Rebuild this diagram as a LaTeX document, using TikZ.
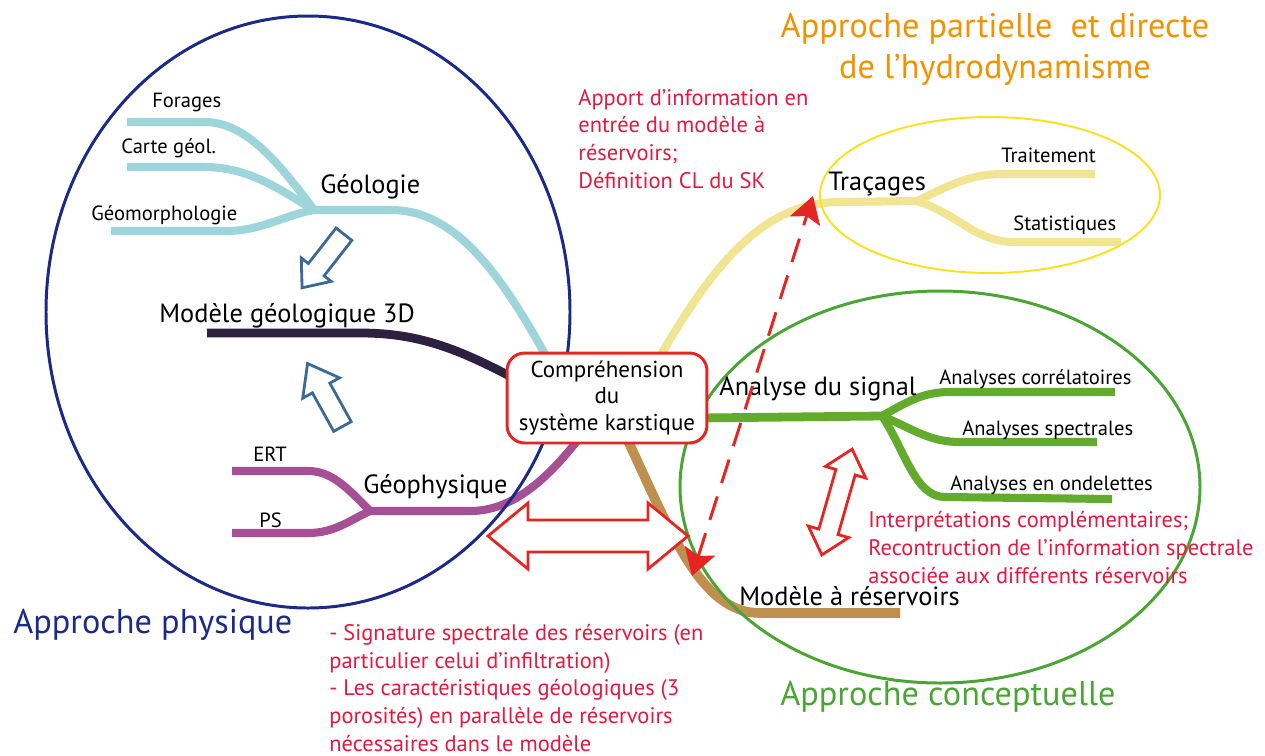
\documentclass[tikz,border=0pt]{standalone}
\usepackage{fontspec}
\setmainfont{PT Sans}
\usetikzlibrary{arrows.meta,calc,backgrounds}
\definecolor{geolc}{HTML}{9DD5DA}
\definecolor{modc}{HTML}{2E2140}
\definecolor{geophc}{HTML}{A64F94}
\definecolor{tracc}{HTML}{F1E593}
\definecolor{signc}{HTML}{63AB2C}
\definecolor{resc}{HTML}{BF8F50}
\definecolor{physc}{HTML}{1B2A87}
\definecolor{concc}{HTML}{4BA534}
\definecolor{hydroc}{HTML}{F39200}
\definecolor{yellc}{HTML}{F9E21B}
\definecolor{note}{HTML}{E5173F}
\definecolor{hint}{HTML}{E52521}
\definecolor{steel}{HTML}{3C6A96}
\tikzset{
  branch/.style={line width=4.6pt, line cap=butt},
  small/.style={font=\fontsize{11.7}{13}\selectfont, anchor=base west, inner sep=0pt},
  mid/.style={font=\fontsize{15}{18}\selectfont, anchor=base west, inner sep=0pt},
  title/.style={font=\fontsize{19.5}{23.2}\selectfont, anchor=base west, inner sep=0pt},
  remark/.style={font=\fontsize{12.8}{15.7}\selectfont, text=note, align=left, anchor=base west, inner sep=0pt},
  hollow/.style={draw=#1, line width=1.6pt, fill=white, line join=miter},
}

\begin{document}
\begin{tikzpicture}[x=0.02cm, y=-0.02cm]
\useasboundingbox (0,0) rectangle (1265,755);

% centre
\node[draw=hint, line width=1.7pt, rounded corners=10pt, fill=white, minimum width=4cm, minimum height=1.8cm,
  align=center, inner sep=0pt, font=\fontsize{13.1}{15.3}\selectfont] (ctr) at (607,398)
  {Compréhension\\du\\système karstique};

\begin{scope}[on background layer]
% geologie
\coordinate (geol) at (314,210);
\draw[branch, geolc] (127,122) -- (204,122) .. controls (240,122) and (270,150) .. (geol);
\draw[branch, geolc] (127,167) -- (204,167) .. controls (250,167) and (280,190) .. (geol);
\draw[branch, geolc] (111,231) -- (227,231) .. controls (260,231) and (285,215) .. (geol);
\draw[branch, geolc] (geol) -- (391,210) .. controls (450,210) and (495,262) .. ($(ctr.north)+(-58,10)$);
% modele 3D
\draw[branch, modc, line width=5pt] (207,333) -- (361,333) .. controls (420,333) and (460,350) .. ($(ctr.west)+(8,-20)$);
% geophysique
\coordinate (geoph) at (370,511);
\draw[branch, geophc] (232,471) -- (308,471) .. controls (330,471) and (345,485) .. (geoph);
\draw[branch, geophc] (232,533) -- (308,533) .. controls (335,533) and (350,520) .. (geoph);
\draw[branch, geophc] (geoph) -- (470,511) .. controls (505,511) and (540,490) .. ($(ctr.south)+(-25,-10)$);
% tracages
\coordinate (trac) at (917,201);
\draw[branch, tracc] ($(ctr.north)+(50,10)$) .. controls (710,270) and (760,202) .. (840,202) -- (trac);
\draw[branch, tracc] (trac) .. controls (950,185) and (970,174) .. (1003,174) -- (1095,174);
\draw[branch, tracc] (trac) .. controls (960,215) and (975,242) .. (1015,242) -- (1121,242);
% signal
\coordinate (sign) at (882,416);
\draw[branch, signc, line width=5pt] ($(ctr.east)+(-10,20)$) -- (sign);
\draw[branch, signc] (sign) .. controls (910,400) and (925,392) .. (950,392) -- (1115,392);
\draw[branch, signc] (sign) .. controls (915,430) and (930,442) .. (960,442) -- (1097,442);
\draw[branch, signc] (sign) .. controls (905,450) and (915,497) .. (945,497) -- (1112,499);
% reservoirs
\draw[branch, resc, line width=5.5pt] ($(ctr.south)+(18,-10)$) .. controls (670,530) and (700,613) .. (760,613) -- (900,613);
% groupes
\draw[physc, line width=1.7pt] (308,312) ellipse [x radius=262, y radius=296];
\draw[yellc, line width=1.1pt] (990,195) ellipse [x radius=170, y radius=78];
\draw[concc, line width=1.7pt] (940,487) ellipse [x radius=260, y radius=196];
\end{scope}

% labels
\node[small] (forages) at (152,107) {Forages};
\node[small] (carte) at (121,153) {Carte géol.};
\node[small] (geomorph) at (91,220) {Géomorphologie};
\node[mid] (geollab) at (320,193) {Géologie};
\node[mid] (modlab) at (159,322) {Modèle géologique 3D};
\node[small] (ert) at (253,461) {ERT};
\node[small] (ps) at (259,527) {PS};
\node[mid] (geophlab) at (363,493) {Géophysique};
\node[mid] (traclab) at (828,190) {Traçages};
\node[small] (traitement) at (1001,162) {Traitement};
\node[small] (stat) at (1013,230) {Statistiques};
\node[mid] (signlab) at (719,395) {Analyse du signal};
\node[small] (corr) at (939,384) {Analyses corrélatoires};
\node[small] (spec) at (962,435) {Analyses spectrales};
\node[small] (onde) at (950,490) {Analyses en ondelettes};
\node[mid] (reslab) at (739,605) {Modèle à réservoirs};

% approches
\node[title, text=physc] (phys) at (13,633) {Approche physique};
\node[title, text=concc] (conc) at (780,705) {Approche conceptuelle};
\node[title, text=hydroc, anchor=base, align=center] (hydro) at (995,78)
  {Approche partielle~ et directe\\de l’hydrodynamisme};

% remarques
\node[remark] (apport) at (578,188) {Apport d’information en\\entrée du modèle à\\réservoirs;\\Définition CL du SK};
\node[remark] (interp) at (868,583) {Interprétations complémentaires;\\Recontruction de l’information spectrale\\associée aux différents réservoirs};
\node[remark] (signat) at (329,751) {- Signature spectrale des réservoirs (en\\particulier celui d’infiltration)\\- Les caractéristiques géologiques (3\\porosités) en parallèle de réservoirs\\nécessaires dans le modèle};

% fleches creuses
\begin{scope}[shift={(323,261)}, rotate=232]
\draw[hollow=steel] (-34,-10) -- (11,-10) -- (11,-19) -- (34,0) -- (11,19) -- (11,10) -- (-34,10) -- cycle;
\end{scope}
\begin{scope}[shift={(325,395)}, rotate=119]
\draw[hollow=steel] (-36,-10) -- (8,-10) -- (8,-21) -- (36,0) -- (8,21) -- (8,10) -- (-36,10) -- cycle;
\end{scope}
\begin{scope}[shift={(588,536)}]
\draw[hollow=hint] (-100,0) -- (-60,-33) -- (-60,-16) -- (60,-16) -- (60,-33) -- (100,0) -- (60,33) -- (60,16) -- (-60,16) -- (-60,33) -- cycle;
\end{scope}
\begin{scope}[shift={(837,502)}, rotate=74]
\draw[hollow=hint] (-55,0) -- (-31,-21) -- (-31,-10) -- (31,-10) -- (31,-21) -- (55,0) -- (31,21) -- (31,10) -- (-31,10) -- (-31,21) -- cycle;
\end{scope}

% fleche pointillee
\coordinate (dlow) at (692,576);
\coordinate (dup) at (813,196);
\draw[hint, line width=1.7pt, dash pattern=on 14pt off 8pt,
  {Stealth[length=15pt,width=18pt,inset=3pt]}-{Stealth[length=15pt,width=18pt,inset=3pt]}] (dlow) -- (dup);
\end{tikzpicture}
\end{document}
